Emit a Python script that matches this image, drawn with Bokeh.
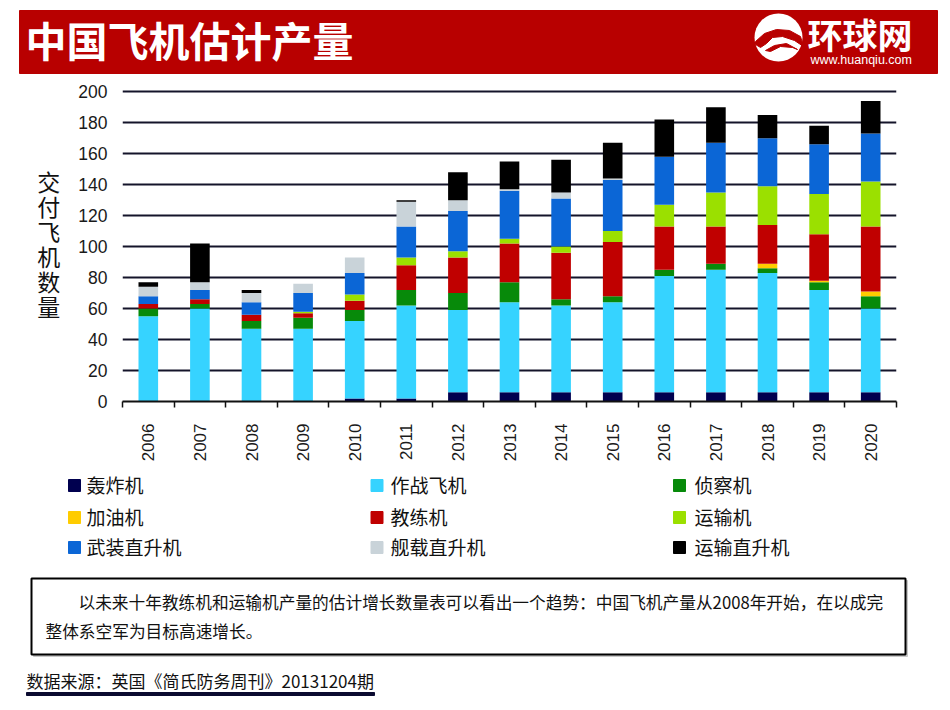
import math
from bokeh.plotting import figure
from bokeh.layouts import column
from bokeh.models import Range1d, FixedTicker, ColumnDataSource
from bokeh.embed import file_html
from bokeh.resources import INLINE
from bokeh.core.properties import value

# ---------------- data ----------------
years = ["2006", "2007", "2008", "2009", "2010", "2011", "2012", "2013",
         "2014", "2015", "2016", "2017", "2018", "2019", "2020"]
series_keys = ["bomber", "fighter", "recon", "tanker", "trainer",
               "transport", "armed_heli", "ship_heli", "transport_heli"]
series_names = ["轰炸机", "作战飞机", "侦察机", "加油机", "教练机",
                "运输机", "武装直升机", "舰载直升机", "运输直升机"]
series_colors = ["#00004f", "#36d3ff", "#078a0a", "#ffcc00", "#c00000",
                 "#9be000", "#0b66d6", "#c9d3d9", "#000000"]

bomber =         [0, 0, 0, 0, 2, 2, 6, 6, 6, 6, 6, 6, 6, 6, 6]
fighter =        [55, 60, 47, 47, 50, 60, 53, 58, 56, 58, 75, 79, 77, 66, 54]
recon =          [5, 3, 5, 7, 7, 10, 11, 13, 4, 4, 4, 4, 3, 5, 8]
tanker =         [0, 0, 0, 0, 0, 0, 0, 0, 0, 0, 0, 0, 3, 1, 3]
trainer =        [3, 3, 4, 3, 6, 16, 23, 25, 30, 35, 28, 24, 25, 30, 42]
transport =      [0, 0, 0, 1, 4, 5, 4, 3, 4, 7, 14, 22, 25, 26, 29]
armed_heli =     [5, 6, 8, 12, 14, 20, 26, 31, 31, 33, 31, 32, 31, 32, 31]
ship_heli =      [6, 5, 6, 6, 10, 16, 7, 1, 4, 1, 0, 0, 0, 0, 0]
transport_heli = [3, 25, 2, 0, 0, 1, 18, 18, 21, 23, 24, 23, 15, 12, 21]

y_ticks = [0, 20, 40, 60, 80, 100, 120, 140, 160, 180, 200]
y_axis_title = "交付飞机数量"
title_text = "中国飞机估计产量"
note_line1 = "以未来十年教练机和运输机产量的估计增长数量表可以看出一个趋势：中国飞机产量从2008年开始，在以成完"
note_line2 = "整体系空军为目标高速增长。"
source_text = "数据来源：英国《简氏防务周刊》20131204期"

W = 942
CJK = value("Noto Sans CJK SC")
LAT = value("Liberation Sans")


def deco_fig(h):
    f = figure(width=W, height=h, x_range=Range1d(0, W), y_range=Range1d(h, 0),
               toolbar_location=None, output_backend="svg",
               x_axis_type=None, y_axis_type=None, min_border=0,
               outline_line_color=None, background_fill_color="white",
               border_fill_color="white", frame_align=False)
    f.xgrid.visible = False
    f.ygrid.visible = False
    return f


# ---------------- header ----------------
hdr = deco_fig(80)
hdr.quad(left=[19], right=[937], top=[10], bottom=[73], color="#b80000")
hdr.text(x=[25], y=[38], text=[title_text], text_font=CJK, text_font_style="bold",
         text_font_size="41px", text_color="white", text_baseline="middle",
         text_align="left")
# logo
hdr.circle(x=[778], y=[37], radius=24, fill_color="white", line_color=None)
hdr.patch(x=[755, 764, 776, 789, 800, 803, 794, 782, 772, 766, 760, 755],
          y=[41, 33, 29, 30, 36, 46, 40, 36, 37, 43, 47, 44],
          color="#b80000")
hdr.patch(x=[765, 774, 786, 797, 792, 780, 770],
          y=[50, 45, 43, 49, 47, 46, 51], color="#b80000")
hdr.text(x=[807], y=[33], text=["环球网"], text_font=CJK, text_font_style="bold",
         text_font_size="35px", text_color="white", text_baseline="middle",
         text_align="left")
hdr.text(x=[810], y=[59], text=["www.huanqiu.com"], text_font=LAT,
         text_font_size="12.5px", text_color="white", text_baseline="middle",
         text_align="left")

# ---------------- chart ----------------
data = dict(x=list(range(len(years))), bomber=bomber, fighter=fighter, recon=recon,
            tanker=tanker, trainer=trainer, transport=transport,
            armed_heli=armed_heli, ship_heli=ship_heli, transport_heli=transport_heli)
src = ColumnDataSource(data)

p = figure(width=W, height=388, x_range=Range1d(-0.5, len(years) - 0.5),
           y_range=Range1d(0, 204), toolbar_location=None, output_backend="svg",
           min_border_left=122, min_border_right=46, min_border_top=5,
           min_border_bottom=67, outline_line_color=None,
           background_fill_color="white", border_fill_color="white",
           frame_align=False)

p.vbar_stack(series_keys, x="x", width=0.38, color=series_colors, source=src,
             line_width=0)

p.xgrid.visible = False
p.ygrid.ticker = FixedTicker(ticks=y_ticks)
p.ygrid.grid_line_color = "#14142a"
p.ygrid.grid_line_width = 2

xa = p.xaxis[0]
xa.ticker = FixedTicker(ticks=list(range(len(years))),
                        minor_ticks=[i - 0.5 for i in range(len(years) + 1)])
xa.major_label_overrides = {i: y for i, y in enumerate(years)}
xa.major_label_orientation = math.pi / 2
xa.major_tick_out = 0
xa.major_tick_in = 0
xa.minor_tick_out = 6
xa.minor_tick_in = 0
xa.minor_tick_line_color = "#111111"
xa.minor_tick_line_width = 1.5
xa.axis_line_color = "#111111"
xa.axis_line_width = 2
xa.major_label_standoff = 16
xa.major_label_text_font = "Liberation Sans"
xa.major_label_text_font_size = "17px"
xa.major_label_text_color = "#1a1a1a"

ya = p.yaxis[0]
ya.ticker = FixedTicker(ticks=y_ticks)
ya.major_tick_out = 0
ya.major_tick_in = 0
ya.minor_tick_out = 0
ya.minor_tick_in = 0
ya.axis_line_color = None
ya.major_label_standoff = 15
ya.major_label_text_font = "Liberation Sans"
ya.major_label_text_font_size = "17.5px"
ya.major_label_text_color = "#1a1a1a"
ya.axis_label = "\n".join(y_axis_title)
ya.axis_label_orientation = "horizontal"
ya.axis_label_text_font = "Noto Sans CJK SC"
ya.axis_label_text_font_size = "23px"
ya.axis_label_text_font_style = "normal"
ya.axis_label_text_color = "#111111"
ya.axis_label_text_line_height = 0.74
ya.axis_label_standoff = 15

# ---------------- legend ----------------
leg = deco_fig(97)
col_sq = [74, 376.5, 679]
col_tx = [86, 390, 694]
row_y = [17, 49, 79]
leg.rect(x=[col_sq[i % 3] for i in range(9)], y=[row_y[i // 3] for i in range(9)],
         width=12, height=12, color=series_colors)
leg.text(x=[col_tx[i % 3] for i in range(9)], y=[row_y[i // 3] - 1 for i in range(9)],
         text=series_names, text_font=CJK, text_font_size="19px",
         text_color="#111111", text_baseline="middle", text_align="left")

# ---------------- note + source ----------------
nt = deco_fig(137)
nt.quad(left=[33], right=[907], top=[15], bottom=[91], color="#c8c8c8")
nt.quad(left=[31], right=[905], top=[13], bottom=[89], fill_color="white",
        line_color="#000000", line_width=2)
nt.text(x=[78], y=[36], text=[note_line1], text_font=CJK, text_font_size="16.7px",
        text_color="#111111", text_baseline="middle", text_align="left")
nt.text(x=[45], y=[65], text=[note_line2], text_font=CJK, text_font_size="16.7px",
        text_color="#111111", text_baseline="middle", text_align="left")
nt.text(x=[26], y=[115], text=[source_text], text_font=CJK, text_font_size="17px",
        text_color="#111111", text_baseline="middle", text_align="left")
nt.quad(left=[26], right=[374], top=[127], bottom=[130], color="#0a0a30")

layout = column(hdr, p, leg, nt, spacing=0)
open("out.html", "w").write(file_html(layout, INLINE))
